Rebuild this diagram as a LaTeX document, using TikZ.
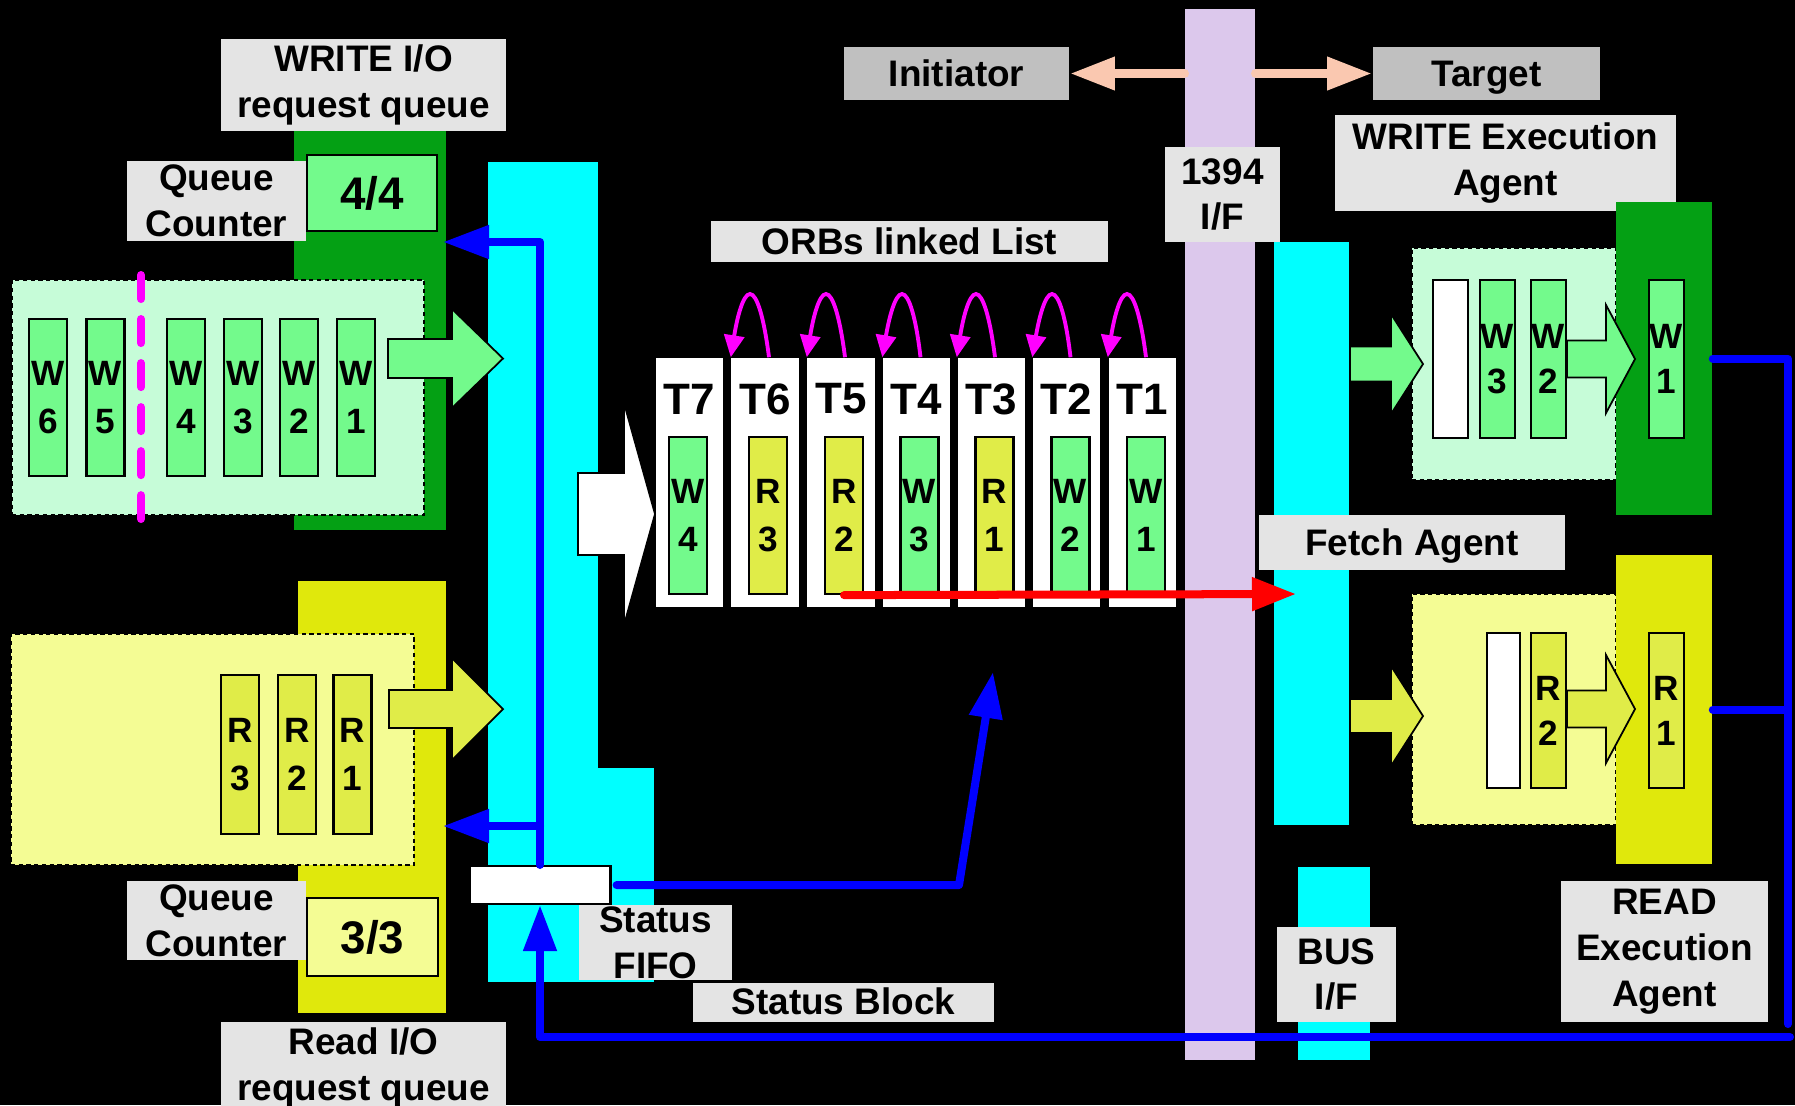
\documentclass[tikz,border=0pt]{standalone}
\usepackage{fontspec}
\setmainfont{Liberation Sans}
\usepackage{tikz}
\usetikzlibrary{arrows.meta,calc}

\definecolor{dkgreen}{RGB}{4,160,20}
\definecolor{ltgreen}{RGB}{115,250,140}
\definecolor{palegreen}{RGB}{198,252,216}
\definecolor{dkyellow}{RGB}{224,232,12}
\definecolor{ltyellow}{RGB}{224,236,72}
\definecolor{paleyellow}{RGB}{244,252,148}
\definecolor{lblgray}{RGB}{228,228,228}
\definecolor{midgray}{RGB}{192,192,192}
\definecolor{lavender}{RGB}{220,200,236}
\definecolor{peach}{RGB}{250,200,176}
\definecolor{aqua}{RGB}{0,255,255}
\definecolor{pink}{RGB}{255,0,255}
\definecolor{pureblue}{RGB}{0,0,255}
\definecolor{purered}{RGB}{255,0,0}

\begin{document}
\begin{tikzpicture}[x=0.01cm, y=-0.01cm,
    lbl/.style={fill=lblgray, inner sep=0pt, align=center, font=\fontsize{10.5}{13}\selectfont\bfseries},
    one/.style={text height=0.25cm, text depth=0pt},
    bar/.style={inner sep=0pt},
    qbox/.style={draw=black, dash pattern=on 1.2pt off 1pt, line width=0.4pt, inner sep=0pt},
    card/.style={draw=black, line width=0.6pt, inner sep=0pt, minimum width=0.38cm, minimum height=1.57cm, align=center, font=\fontsize{10}{13.8}\selectfont\bfseries},
    wcard/.style={card, fill=ltgreen},
    rcard/.style={card, fill=ltyellow},
    xcard/.style={card, minimum width=0.35cm, minimum height=1.58cm, font=\fontsize{10}{12.8}\selectfont\bfseries},
    orb/.style={fill=white, inner sep=0pt, minimum width=0.67cm, minimum height=2.49cm},
    tl/.style={inner sep=0pt, font=\fontsize{12.5}{14}\selectfont\bfseries},
    cnt/.style={draw=black, line width=0.6pt, inner sep=0pt, font=\fontsize{13}{15}\selectfont\bfseries},
    blk/.style={draw=black, line width=0.5pt},
    sepln/.style={pink, line width=0.08cm, line cap=round, dash pattern=on 0.24cm off 0.20cm},
    bl/.style={pureblue, line width=0.08cm, line cap=round, line join=round},
    blarr/.style={bl, -{Triangle[length=0.46cm,width=0.32cm]}},
    lnk/.style={pink, line width=1.1pt, -{Triangle[length=0.22cm,width=0.2cm]}},
    pch/.style={peach, line width=0.095cm, line cap=round, -{Triangle[length=0.45cm,width=0.31cm]}}
]
\useasboundingbox (0,0) rectangle (1795,1105);
\fill[black] (0,0) rectangle (1795,1105);

% write request queue
\node[bar, fill=dkgreen, minimum width=1.52cm, minimum height=3.99cm] (wq) at (370,330.5) {};
\node[lbl, minimum width=2.85cm, minimum height=0.92cm] (wqlbl) at (363.5,85) {WRITE I/O\\request queue};
\node[lbl, minimum width=1.79cm, minimum height=0.80cm] (wqc) at (216.5,201) {Queue\\Counter};
\node[cnt, fill=ltgreen, minimum width=1.30cm, minimum height=0.76cm] (wcnt) at (372,193) {4/4};
\node[qbox, fill=palegreen, minimum width=4.12cm, minimum height=2.35cm] (wbox) at (218,397.5) {};
\node[wcard] (w6) at (48,397.5) {W\\6};
\node[wcard] (w5) at (105.5,397.5) {W\\5};
\node[wcard] (w4) at (186,397.5) {W\\4};
\node[wcard] (w3) at (243,397.5) {W\\3};
\node[wcard] (w2) at (299,397.5) {W\\2};
\node[wcard] (w1) at (356,397.5) {W\\1};
\draw[sepln] (141,275) -- (141,519);

% read request queue
\node[bar, fill=dkyellow, minimum width=1.48cm, minimum height=4.32cm] (rq) at (372,797) {};
\node[qbox, fill=paleyellow, minimum width=4.03cm, minimum height=2.31cm] (rbox) at (212.5,749.5) {};
\node[rcard, minimum height=1.59cm] (r3) at (240,754.5) {R\\3};
\node[rcard, minimum height=1.59cm] (r2) at (297,754.5) {R\\2};
\node[rcard, minimum height=1.59cm] (r1) at (352.5,754.5) {R\\1};
\node[lbl, minimum width=1.79cm, minimum height=0.79cm] (rqc) at (216.5,920.5) {Queue\\Counter};
\node[cnt, fill=paleyellow, minimum width=1.31cm, minimum height=0.78cm] (rcnt) at (372.5,937) {3/3};
\node[lbl, minimum width=2.85cm, minimum height=0.92cm] (rqlbl) at (363.5,1068) {Read I/O\\request queue};

% command bar
\node[bar, fill=aqua, minimum width=1.10cm, minimum height=8.20cm] (cmd) at (543,572) {};
\node[bar, fill=aqua, minimum width=0.56cm, minimum height=2.14cm] (cmdx) at (626,875) {};

\filldraw[blk, fill=ltgreen] (388,339) -- (452,339) -- (452,309) -- (503,358.5) -- (452,408) -- (452,378) -- (388,378) -- cycle;
\filldraw[blk, fill=ltyellow] (389,690) -- (452,690) -- (452,658) -- (503,709) -- (452,760) -- (452,728) -- (389,728) -- cycle;
\filldraw[blk, fill=white] (578,473) -- (624,473) -- (624,403) -- (655,514) -- (624,625) -- (624,555) -- (578,555) -- cycle;

% status fifo
\node[draw=black, fill=white, line width=0.6pt, inner sep=0pt, minimum width=1.41cm, minimum height=0.38cm] (ffo) at (540,885) {};
\node[lbl, minimum width=1.53cm, minimum height=0.75cm] (ffolbl) at (655.5,942.5) {Status\\FIFO};
\node[lbl, one, minimum width=3.0cm, minimum height=0.39cm] (sblk) at (843.5,1002) {Status Block};

\coordinate (wqin) at (443,242);
\coordinate (rbr) at (540,826);
\coordinate (rqin) at (443,826);
\coordinate (orbturn) at (959,885);
\coordinate (orbin) at (993,672);
\coordinate (retin) at (1790,1037);
\coordinate (rturn) at (1788,1024);
\coordinate (fetchin) at (1296,594);

\draw[blarr] (ffo.north) |- (wqin);
\draw[blarr] (rbr) -- (rqin);
\draw[blarr] ([xshift=0.05cm]ffo.east) -- (orbturn) -- (orbin);

% ORBs linked list
\node[lbl, one, minimum width=3.97cm, minimum height=0.41cm] (orblbl) at (909.5,241.5) {ORBs linked List};
\node[orb] (t7) at (689.5,482.5) {};
\node[orb] (t6) at (765,482.5) {};
\node[orb] (t5) at (841,482.5) {};
\node[orb] (t4) at (916.5,482.5) {};
\node[orb] (t3) at (991,482.5) {};
\node[orb] (t2) at (1066.5,482.5) {};
\node[orb] (t1) at (1142,482.5) {};
\node[tl] (t7lbl) at (689.5,399) {T7};
\node[tl] (t6lbl) at (765,399) {T6};
\node[tl] (t5lbl) at (841,399) {T5};
\node[tl] (t4lbl) at (916.5,399) {T4};
\node[tl] (t3lbl) at (991,399) {T3};
\node[tl] (t2lbl) at (1066.5,399) {T2};
\node[tl] (t1lbl) at (1142,399) {T1};
\node[wcard] (t7in) at (688,515.5) {W\\4};
\node[rcard] (t6in) at (768,515.5) {R\\3};
\node[rcard] (t5in) at (844,515.5) {R\\2};
\node[wcard] (t4in) at (919.5,515.5) {W\\3};
\node[rcard] (t3in) at (994.5,515.5) {R\\1};
\node[wcard] (t2in) at (1070.5,515.5) {W\\2};
\node[wcard] (t1in) at (1146,515.5) {W\\1};

\draw[lnk] ([xshift=0.04cm]t6.north) .. controls (764,318) and (757,294) .. (750,294) .. controls (743,294) and (737,318) .. (t6.north west);
\draw[lnk] ([xshift=0.04cm]t5.north) .. controls (840,318) and (833,294) .. (826,294) .. controls (819,294) and (813,318) .. (t5.north west);
\draw[lnk] ([xshift=0.04cm]t4.north) .. controls (916,318) and (909,294) .. (902,294) .. controls (895,294) and (889,318) .. (t4.north west);
\draw[lnk] ([xshift=0.04cm]t3.north) .. controls (990,318) and (983,294) .. (976,294) .. controls (969,294) and (963,318) .. (t3.north west);
\draw[lnk] ([xshift=0.04cm]t2.north) .. controls (1066,318) and (1059,294) .. (1052,294) .. controls (1045,294) and (1039,318) .. (t2.north west);
\draw[lnk] ([xshift=0.04cm]t1.north) .. controls (1141,318) and (1134,294) .. (1127,294) .. controls (1120,294) and (1114,318) .. (t1.north west);

% 1394 interface
\node[bar, fill=lavender, minimum width=0.70cm, minimum height=10.51cm] (ifbar) at (1220,534.5) {};
\node[lbl, minimum width=1.15cm, minimum height=0.95cm] (iflbl) at (1222.5,194.5) {1394\\I/F};
\node[lbl, one, fill=midgray, minimum width=2.25cm, minimum height=0.53cm] (init) at (956.5,73.5) {Initiator};
\node[lbl, one, fill=midgray, minimum width=2.27cm, minimum height=0.53cm] (tgt) at (1486.5,73.5) {Target};
\draw[pch] (ifbar.west |- init.east) -- (init.east);
\draw[pch] (ifbar.east |- tgt.west) -- (tgt.west);

% fetch agent
\node[bar, fill=aqua, minimum width=0.75cm, minimum height=5.83cm] (fetch) at (1311.5,533.5) {};
\node[lbl, one, minimum width=3.06cm, minimum height=0.55cm] (fetchlbl) at (1412,542.5) {Fetch Agent};
\node[bar, fill=aqua, minimum width=0.72cm, minimum height=1.93cm] (busif) at (1334,963.5) {};
\node[lbl, minimum width=1.19cm, minimum height=0.95cm] (buslbl) at (1336.5,974.5) {BUS\\I/F};
\draw[purered, line width=0.08cm, line cap=round, -{Triangle[length=0.44cm,width=0.32cm]}] (t5in.south) -- (fetchin);

% write execution agent
\node[lbl, minimum width=3.41cm, minimum height=0.96cm] (welbl) at (1505.5,163) {WRITE Execution\\Agent};
\node[qbox, fill=palegreen, minimum width=2.04cm, minimum height=2.32cm] (webox) at (1514,364) {};
\node[bar, fill=dkgreen, minimum width=0.96cm, minimum height=3.13cm] (we) at (1664,358.5) {};
\node[xcard, fill=white] (wex) at (1450.5,359) {};
\node[xcard, fill=ltgreen] (we3) at (1497.5,359) {W\\3};
\node[xcard, fill=ltgreen] (we2) at (1548.5,359) {W\\2};
\node[xcard, fill=ltgreen] (we1) at (1666.5,359) {W\\1};
\filldraw[blk, fill=ltgreen] (1350,346.5) -- (1391,346.5) -- (1391,314) -- (1423,364) -- (1391,414) -- (1391,381.5) -- (1350,381.5) -- cycle;
\filldraw[blk, fill=ltgreen] (1567,340.5) -- (1606,340.5) -- (1606,305) -- (1635,359) -- (1606,413) -- (1606,377.5) -- (1567,377.5) -- cycle;

% read execution agent
\node[qbox, fill=paleyellow, minimum width=2.04cm, minimum height=2.31cm] (rebox) at (1514,709.5) {};
\node[bar, fill=dkyellow, minimum width=0.96cm, minimum height=3.09cm] (re) at (1664,709.5) {};
\node[xcard, fill=white, minimum width=0.33cm, minimum height=1.55cm] (rex) at (1503.5,710.5) {};
\node[xcard, fill=ltyellow, minimum height=1.55cm] (re2) at (1548.5,710.5) {R\\2};
\node[xcard, fill=ltyellow, minimum height=1.55cm] (re1) at (1666.5,710.5) {R\\1};
\filldraw[blk, fill=ltyellow] (1350,699) -- (1391,699) -- (1391,666) -- (1423,716) -- (1391,766) -- (1391,733) -- (1350,733) -- cycle;
\filldraw[blk, fill=ltyellow] (1567,690.5) -- (1606,690.5) -- (1606,655) -- (1635,709) -- (1606,763) -- (1606,727.5) -- (1567,727.5) -- cycle;
\node[lbl, minimum width=2.07cm, minimum height=1.41cm] (relbl) at (1664.5,951.5) {READ\\Execution\\Agent};

\draw[bl] (we.east) -| (rturn);
\draw[bl] (re.east) -- (re.east -| rturn);
\draw[blarr] (retin) -| (ffo.south);
\end{tikzpicture}
\end{document}
